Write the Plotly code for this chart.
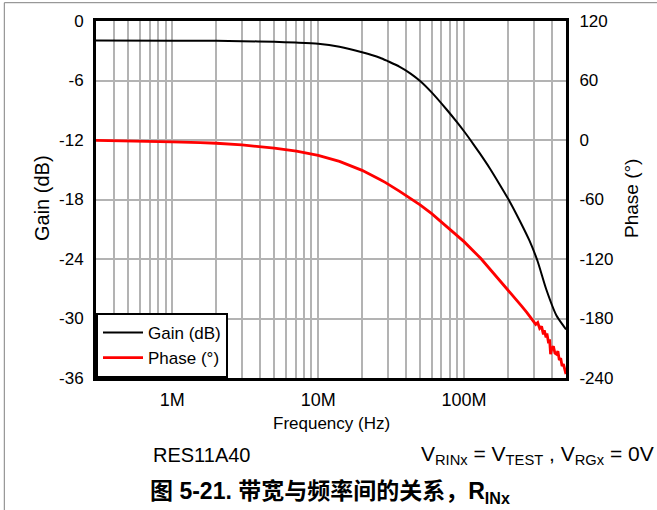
import plotly.graph_objects as go

# ---- data ----
gain_freq = [3e5, 1e6, 2e6, 3e6, 5e6, 7e6, 1e7, 1.4e7, 2e7, 2.65e7, 3e7, 3.6e7, 4.3e7,
             5e7, 6e7, 7.57e7, 9e7, 1e8, 1.1e8, 1.28e8, 1.5e8, 1.75e8, 2.05e8, 2.4e8,
             2.81e8, 3.19e8, 3.67e8, 4.3e8, 4.89e8, 5e8]
gain_db = [-1.97, -1.98, -2.0, -2.03, -2.1, -2.18, -2.3, -2.6, -3.15, -3.7, -4.05, -4.6, -5.3,
           -6.05, -7.2, -8.9, -10.25, -11.12, -11.95, -13.33, -14.85, -16.46, -18.17, -20.09,
           -22.15, -24.2, -27.1, -29.7, -30.9, -31.1]

phase_freq = [3e5, 4e5, 5e5, 7e5, 1e6, 1.55e6, 2e6, 3e6, 4e6, 5e6, 7.1e6, 1e7, 1.4e7, 2e7,
              2.65e7, 2.9e7, 3.6e7, 5e7, 6e7, 7.57e7, 1e8, 1.3e8, 1.6e8, 2e8, 2.3e8, 2.5e8,
              2.7e8, 2.97e8, 3.1e8, 3.2e8, 3.3e8, 3.4e8, 3.5e8, 3.55e8, 3.65e8, 3.7e8,
              3.8e8, 3.86e8, 3.92e8, 4e8, 4.1e8, 4.2e8, 4.3e8, 4.4e8, 4.5e8, 4.6e8, 4.7e8,
              4.8e8, 4.9e8, 5e8]
phase_deg = [-0.3, -0.5, -0.8, -1.3, -1.8, -2.7, -3.3, -5.0, -6.6, -8.1, -11.3, -15.6, -21.6,
             -30.6, -39.9, -43.0, -51.5, -65.5, -74.3, -86.8, -102.5, -119.3, -134.5, -151.0,
             -161.5, -168.0, -174.0, -182.0, -186.0, -184.0, -190.0, -188.0, -196.0, -192.0,
             -199.0, -195.0, -205.0, -201.0, -216.0, -210.0, -208.0, -215.0, -216.0, -213.0,
             -222.0, -220.0, -228.0, -226.0, -232.0, -236.0]

x_tickvals = [1e6, 1e7, 1e8]
x_ticktext = ["1M", "10M", "100M"]
x_minor = [4e5, 5e5, 6e5, 7e5, 8e5, 9e5,
           2e6, 3e6, 4e6, 5e6, 6e6, 7e6, 8e6, 9e6,
           2e7, 3e7, 4e7, 5e7, 6e7, 7e7, 8e7, 9e7,
           2e8, 3e8, 4e8]
gain_ticks = [0, -6, -12, -18, -24, -30, -36]
gain_ticktext = ["0", "-6", "-12", "-18", "-24", "-30", "-36"]
phase_ticks = [120, 60, 0, -60, -120, -180, -240]
phase_ticktext = ["120", "60", "0", "-60", "-120", "-180", "-240"]

# ---- layout geometry (pixels) ----
W, H = 657, 510
L, R, T, B = 96, 566, 21, 378
pw, ph = R - L, B - T


def px(xp):
    return (xp - L) / pw


def py(yp):
    return (B - yp) / ph


FONT = "Liberation Sans, Arial, sans-serif"
GRID = "#b3b3b3"

fig = go.Figure()
fig.add_trace(go.Scatter(x=gain_freq, y=gain_db, mode="lines", name="Gain (dB)",
                         line=dict(color="black", width=2, shape="spline", smoothing=0.7),
                         yaxis="y"))
fig.add_trace(go.Scatter(x=phase_freq, y=phase_deg, mode="lines", name="Phase (°)",
                         line=dict(color="#ff0000", width=2.8), yaxis="y2"))

fig.update_layout(
    width=W, height=H,
    margin=dict(l=L, r=W - R, t=T, b=H - B, pad=0),
    paper_bgcolor="white", plot_bgcolor="white",
    font=dict(family=FONT, color="black", size=17),
    showlegend=True,
    legend=dict(x=0, y=0, xanchor="left", yanchor="bottom",
                bgcolor="white", bordercolor="black", borderwidth=2,
                font=dict(size=17, family=FONT), tracegroupgap=0, itemwidth=40),
    xaxis=dict(type="log", range=[5.4771, 8.699],
               tickmode="array", tickvals=x_tickvals, ticktext=x_ticktext,
               tickfont=dict(size=18), ticks="", ticklabelstandoff=3,
               showgrid=True, gridcolor=GRID, gridwidth=2,
               minor=dict(tickmode="array", tickvals=x_minor, showgrid=True,
                          gridcolor=GRID, gridwidth=2, ticks=""),
               showline=True, linecolor="black", linewidth=3, mirror=True,
               zeroline=False),
    yaxis=dict(range=[-36, 0], tickmode="array", tickvals=gain_ticks, ticktext=gain_ticktext,
               tickfont=dict(size=17), ticks="", ticklabelstandoff=6,
               showgrid=True, gridcolor=GRID, gridwidth=2,
               showline=True, linecolor="black", linewidth=3, zeroline=False),
    yaxis2=dict(range=[-240, 120], overlaying="y", side="right",
                tickmode="array", tickvals=phase_ticks, ticktext=phase_ticktext,
                tickfont=dict(size=17), ticks="", ticklabelstandoff=7,
                showgrid=False, showline=True, linecolor="black", linewidth=3,
                zeroline=False),
)

ann = [
    dict(text="Gain (dB)", x=px(42), y=py(198), textangle=-90, font=dict(size=20)),
    dict(text="Phase (°)", x=px(631), y=py(199), textangle=-90, font=dict(size=19)),
    dict(text="Frequency (Hz)", x=px(331), y=py(423), font=dict(size=17)),
    dict(text="RES11A40", x=px(201), y=py(455), font=dict(size=20)),
    dict(text="V<sub>RINx</sub> = V<sub>TEST</sub> , V<sub>RGx</sub> = 0V",
         x=px(656), y=py(455), xanchor="right", font=dict(size=21)),
    dict(text="<b>图 5-21. 带宽与频率间的关系，R<sub>INx</sub></b>", x=px(330), y=py(492),
         font=dict(size=23, family="Liberation Sans, Noto Sans CJK SC, sans-serif")),
]
for a in ann:
    a.setdefault("xanchor", "center")
    fig.add_annotation(xref="paper", yref="paper", showarrow=False, yanchor="middle", **a)

# outer frame lines
fig.add_shape(type="line", xref="paper", yref="paper", x0=px(4.3), x1=px(4.3),
              y0=py(2.7), y1=py(520), line=dict(color="#808080", width=1))
fig.add_shape(type="line", xref="paper", yref="paper", x0=px(4.3), x1=px(670),
              y0=py(2.7), y1=py(2.7), line=dict(color="#808080", width=1))

fig.write_html("out.html")
